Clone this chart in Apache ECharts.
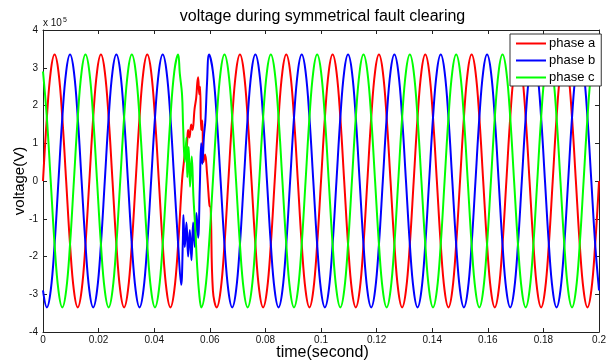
<!DOCTYPE html>
<html>
<head>
<meta charset="utf-8">
<script src="https://cdn.jsdelivr.net/npm/echarts@6/dist/echarts.min.js"></script>
<style>
  html, body { margin: 0; padding: 0; background: #fff; }
  #chart { width: 609px; height: 363px; }
</style>
</head>
<body>
<div id="chart"></div>
<script>
// voltages are in units of 1e5 V (axis shows "x 10^5")
// clean waveform readings, one every 1/720 s from t = 0 to t = 0.2 s
// null = inside the fault, see the fault arrays below
var STEP = 1 / 720;

var phaseA = [
  0, 1.68, 2.90, 3.35, 2.90, 1.68, 0, -1.68, -2.90, -3.35, -2.90, -1.68,
  0, 1.68, 2.90, 3.35, 2.90, 1.68, 0, -1.68, -2.90, -3.35, -2.90, -1.68,
  0, 1.68, 2.90, 3.35, 2.90, 1.68, 0, -1.68, -2.90, -3.35, -2.90, -1.68,
  0, null, null, null, null, null, null, null, -2.90, -3.35, -2.90, -1.68,
  0, 1.68, 2.90, 3.35, 2.90, 1.68, 0, -1.68, -2.90, -3.35, -2.90, -1.68,
  0, 1.68, 2.90, 3.35, 2.90, 1.68, 0, -1.68, -2.90, -3.35, -2.90, -1.68,
  0, 1.68, 2.90, 3.35, 2.90, 1.68, 0, -1.68, -2.90, -3.35, -2.90, -1.68,
  0, 1.68, 2.90, 3.35, 2.90, 1.68, 0, -1.68, -2.90, -3.35, -2.90, -1.68,
  0, 1.68, 2.90, 3.35, 2.90, 1.68, 0, -1.68, -2.90, -3.35, -2.90, -1.68,
  0, 1.68, 2.90, 3.35, 2.90, 1.68, 0, -1.68, -2.90, -3.35, -2.90, -1.68,
  0, 1.68, 2.90, 3.35, 2.90, 1.68, 0, -1.68, -2.90, -3.35, -2.90, -1.68,
  0, 1.68, 2.90, 3.35, 2.90, 1.68, 0, -1.68, -2.90, -3.35, -2.90, -1.68,
  0
];

var phaseB = [
  -2.90, -3.35, -2.90, -1.68, 0, 1.68, 2.90, 3.35, 2.90, 1.68, 0, -1.68,
  -2.90, -3.35, -2.90, -1.68, 0, 1.68, 2.90, 3.35, 2.90, 1.68, 0, -1.68,
  -2.90, -3.35, -2.90, -1.68, 0, 1.68, 2.90, 3.35, 2.90, 1.68, 0, -1.68,
  null, null, null, null, null, null, null, 3.35, 2.90, 1.68, 0, -1.68,
  -2.90, -3.35, -2.90, -1.68, 0, 1.68, 2.90, 3.35, 2.90, 1.68, 0, -1.68,
  -2.90, -3.35, -2.90, -1.68, 0, 1.68, 2.90, 3.35, 2.90, 1.68, 0, -1.68,
  -2.90, -3.35, -2.90, -1.68, 0, 1.68, 2.90, 3.35, 2.90, 1.68, 0, -1.68,
  -2.90, -3.35, -2.90, -1.68, 0, 1.68, 2.90, 3.35, 2.90, 1.68, 0, -1.68,
  -2.90, -3.35, -2.90, -1.68, 0, 1.68, 2.90, 3.35, 2.90, 1.68, 0, -1.68,
  -2.90, -3.35, -2.90, -1.68, 0, 1.68, 2.90, 3.35, 2.90, 1.68, 0, -1.68,
  -2.90, -3.35, -2.90, -1.68, 0, 1.68, 2.90, 3.35, 2.90, 1.68, 0, -1.68,
  -2.90, -3.35, -2.90, -1.68, 0, 1.68, 2.90, 3.35, 2.90, 1.68, 0, -1.68,
  -2.90
];

var phaseC = [
  2.90, 1.68, 0, -1.68, -2.90, -3.35, -2.90, -1.68, 0, 1.68, 2.90, 3.35,
  2.90, 1.68, 0, -1.68, -2.90, -3.35, -2.90, -1.68, 0, 1.68, 2.90, 3.35,
  2.90, 1.68, 0, -1.68, -2.90, -3.35, -2.90, -1.68, 0, 1.68, 2.90, 3.35,
  null, null, null, null, null, -3.35, -2.90, -1.68, 0, 1.68, 2.90, 3.35,
  2.90, 1.68, 0, -1.68, -2.90, -3.35, -2.90, -1.68, 0, 1.68, 2.90, 3.35,
  2.90, 1.68, 0, -1.68, -2.90, -3.35, -2.90, -1.68, 0, 1.68, 2.90, 3.35,
  2.90, 1.68, 0, -1.68, -2.90, -3.35, -2.90, -1.68, 0, 1.68, 2.90, 3.35,
  2.90, 1.68, 0, -1.68, -2.90, -3.35, -2.90, -1.68, 0, 1.68, 2.90, 3.35,
  2.90, 1.68, 0, -1.68, -2.90, -3.35, -2.90, -1.68, 0, 1.68, 2.90, 3.35,
  2.90, 1.68, 0, -1.68, -2.90, -3.35, -2.90, -1.68, 0, 1.68, 2.90, 3.35,
  2.90, 1.68, 0, -1.68, -2.90, -3.35, -2.90, -1.68, 0, 1.68, 2.90, 3.35,
  2.90, 1.68, 0, -1.68, -2.90, -3.35, -2.90, -1.68, 0, 1.68, 2.90, 3.35,
  2.90
];

// transient during the fault (0.05 s .. ~0.06 s)
var faultTimeA = [0.0506, 0.0511, 0.0517, 0.0522, 0.0527, 0.0533, 0.0538, 0.0545, 0.0551, 0.0555, 0.0558,
                  0.0562, 0.0565, 0.0569, 0.0573, 0.0577, 0.0583, 0.0590, 0.0595, 0.0599, 0.0603];
var faultA     = [0.45, 0.75, 0.9, 1.35, 1.15, 1.5, 1.35, 1.9, 2.2, 2.6, 2.75,
                  2.3, 2.5, 1.35, 1.6, 0.5, 0.7, 0.2, -0.3, -0.65, -0.7];

var faultTimeB = [0.0497, 0.0503, 0.0505, 0.0510, 0.0516, 0.0522, 0.0528, 0.0534, 0.0540,
                  0.0546, 0.0552, 0.0558, 0.0564, 0.0569, 0.0573, 0.0579, 0.0584, 0.0590];
var faultB     = [-2.75, -1.6, -0.9, -1.75, -1.1, -2.0, -1.3, -2.1, -1.1,
                  -1.75, -0.85, -1.5, -0.15, 1.0, 0.45, 1.2, 1.6, 2.6];

var faultTimeC = [0.0492, 0.0500, 0.0504, 0.0510, 0.0516, 0.0519, 0.0524, 0.0529, 0.0535, 0.0541, 0.0548, 0.0554, 0.0562];
var faultC     = [2.85, 2.3, 1.45, 0.5, 1.15, 0.1, 0.9, -0.15, 0.65, -0.4, -1.3, -2.2, -3.0];

var seriesNames = ['phase a', 'phase b', 'phase c'];
var seriesColors = ['#ff0000', '#0000ff', '#00ff00'];

// merge clean samples with the fault samples, sorted by time
function buildData(values, fTime, fVal) {
  var pts = [];
  for (var i = 0; i < values.length; i++) {
    if (values[i] !== null) pts.push([i * STEP, values[i]]);
  }
  for (var j = 0; j < fTime.length; j++) {
    pts.push([fTime[j], fVal[j]]);
  }
  pts.sort(function (a, b) { return a[0] - b[0]; });
  return pts;
}

var FONT = '"Liberation Sans", Arial, sans-serif';
var chart = echarts.init(document.getElementById('chart'), null, { renderer: 'canvas' });

var boxAxis = {
  axisLine: { show: true, onZero: false, lineStyle: { color: '#222', width: 1 } },
  axisTick: { show: true, inside: true, length: 4, lineStyle: { color: '#222' } },
  splitLine: { show: false }
};

chart.setOption({
  animation: false,
  backgroundColor: '#fff',
  grid: { left: 43, right: 4, top: 30, bottom: 31 },
  legend: {
    data: seriesNames,
    orient: 'vertical',
    left: 510,
    top: 34,
    itemWidth: 30,
    itemHeight: 12,
    itemGap: 4,
    padding: [3, 6, 2, 5],
    backgroundColor: '#fff',
    borderColor: '#333',
    borderWidth: 1,
    borderRadius: 0,
    itemStyle: { opacity: 0 },   // hide the marker dot, keep only the line sample
    textStyle: { fontSize: 13, fontFamily: FONT, color: '#000', padding: [0, 0, 0, -2] }
  },
  xAxis: [
    Object.assign({
      type: 'value', min: 0, max: 0.2, interval: 0.02, position: 'bottom',
      axisLabel: {
        fontSize: 10, fontFamily: FONT, color: '#111', margin: 3,
        formatter: function (v) { return String(+v.toFixed(2)); }
      }
    }, boxAxis),
    Object.assign({
      type: 'value', min: 0, max: 0.2, interval: 0.02, position: 'top',
      axisLabel: { show: false }
    }, boxAxis)
  ],
  yAxis: [
    Object.assign({
      type: 'value', min: -4, max: 4, interval: 1, position: 'left',
      axisLabel: { fontSize: 10, fontFamily: FONT, color: '#111', margin: 5 }
    }, boxAxis),
    Object.assign({
      type: 'value', min: -4, max: 4, interval: 1, position: 'right',
      axisLabel: { show: false }
    }, boxAxis)
  ],
  series: [
    { data: buildData(phaseA, faultTimeA, faultA) },
    { data: buildData(phaseB, faultTimeB, faultB) },
    { data: buildData(phaseC, faultTimeC, faultC) }
  ].map(function (s, k) {
    return {
      name: seriesNames[k],
      type: 'line',
      data: s.data,
      xAxisIndex: 0,
      yAxisIndex: 0,
      symbol: 'none',
      showSymbol: false,
      smooth: 0.4,
      color: seriesColors[k],
      lineStyle: { color: seriesColors[k], width: 2 }
    };
  }),
  graphic: [
    {
      type: 'text', x: 322.5, y: 17,
      style: { text: 'voltage during symmetrical fault clearing', fontSize: 16, fontFamily: FONT,
               fill: '#000', align: 'center', verticalAlign: 'middle' }
    },
    {
      type: 'text', x: 322.5, y: 353,
      style: { text: 'time(second)', fontSize: 16, fontFamily: FONT,
               fill: '#000', align: 'center', verticalAlign: 'middle' }
    },
    {
      type: 'text', x: 19.5, y: 181, rotation: Math.PI / 2,
      style: { text: 'voltage(V)', fontSize: 15, fontFamily: FONT,
               fill: '#000', align: 'center', verticalAlign: 'middle' }
    },
    {
      type: 'text', x: 43, y: 23,
      style: { text: 'x 10', fontSize: 10, fontFamily: FONT,
               fill: '#111', align: 'left', verticalAlign: 'middle' }
    },
    {
      type: 'text', x: 63, y: 20.5,
      style: { text: '5', fontSize: 7, fontFamily: FONT,
               fill: '#111', align: 'left', verticalAlign: 'middle' }
    }
  ]
});
</script>
</body>
</html>
